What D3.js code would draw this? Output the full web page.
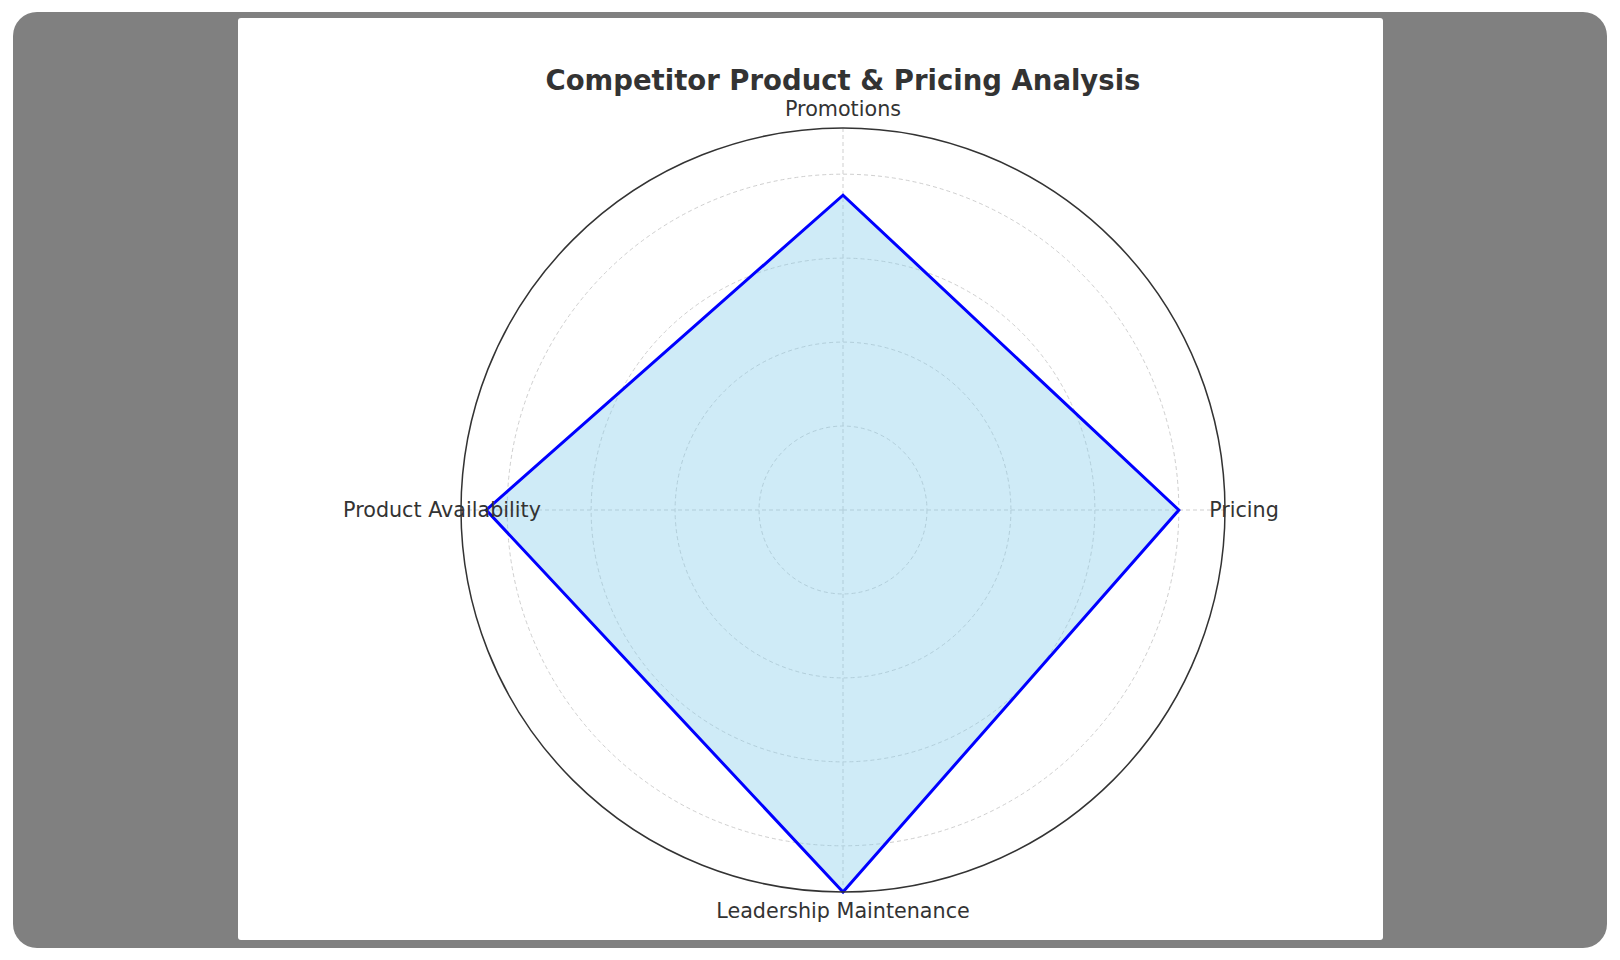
<!DOCTYPE html>
<html>
<head>
<meta charset="utf-8">
<script src="https://cdn.jsdelivr.net/npm/d3@7"></script>
<style>
  body { margin: 0; background: #fff; }
  svg { display: block; font-family: "DejaVu Sans", sans-serif; }
</style>
</head>
<body>
<div id="chart"></div>
<script>
// data
var categories = ['Pricing', 'Promotions', 'Product Availability', 'Leadership Maintenance'];
var scores = [8, 7.5, 8.5, 9.1];
var ringTicks = [2, 4, 6, 8];
var title = 'Competitor Product & Pricing Analysis';

var width = 1620, height = 960;
var cx = 843, cy = 510, radius = 382;
var maxScore = d3.max(scores);

var svg = d3.select('#chart').append('svg')
    .attr('width', width)
    .attr('height', height);

// grey frame + white card
svg.append('rect')
    .attr('x', 13).attr('y', 12)
    .attr('width', 1594).attr('height', 936)
    .attr('rx', 24).attr('ry', 24)
    .style('fill', '#808080');

svg.append('rect')
    .attr('x', 238).attr('y', 18)
    .attr('width', 1145).attr('height', 922)
    .attr('rx', 3).attr('ry', 3)
    .style('fill', '#fff');

var r = d3.scaleLinear()
    .domain([0, maxScore])
    .range([0, radius]);

// matplotlib-style angles: 0 at east, counter-clockwise
var theta = d3.scaleLinear()
    .domain([0, categories.length])
    .range([0, 2 * Math.PI]);

// d3 radial angle is clockwise from 12 o'clock
function d3Angle(i) { return Math.PI / 2 - theta(i); }

var g = svg.append('g')
    .attr('transform', 'translate(' + cx + ',' + cy + ')');

// grid rings
g.selectAll('.ring')
    .data(ringTicks)
    .enter()
    .append('circle')
    .attr('class', 'ring')
    .attr('r', function(d) { return r(d); })
    .style('fill', 'none')
    .style('stroke', '#cfcfcf')
    .style('stroke-width', 1)
    .style('stroke-dasharray', '4,3');

// spokes
g.selectAll('.spoke')
    .data(categories)
    .enter()
    .append('line')
    .attr('class', 'spoke')
    .attr('x1', 0).attr('y1', 0)
    .attr('x2', function(d, i) { return r(maxScore) * Math.cos(theta(i)); })
    .attr('y2', function(d, i) { return -r(maxScore) * Math.sin(theta(i)); })
    .style('stroke', '#cfcfcf')
    .style('stroke-width', 1)
    .style('stroke-dasharray', '4,3');

// data polygon
var radar = d3.lineRadial()
    .angle(function(d, i) { return d3Angle(i); })
    .radius(function(d) { return r(d); })
    .curve(d3.curveLinearClosed);

g.append('path')
    .datum(scores)
    .attr('d', radar)
    .style('fill', '#87ceeb')
    .style('fill-opacity', 0.4)
    .style('stroke', 'none');

g.append('path')
    .datum(scores)
    .attr('d', radar)
    .style('fill', 'none')
    .style('stroke', '#0000ff')
    .style('stroke-width', 3)
    .style('stroke-linejoin', 'miter');

// outer frame circle
g.append('circle')
    .attr('r', r(maxScore))
    .style('fill', 'none')
    .style('stroke', '#333')
    .style('stroke-width', 1.5);

// category labels
g.selectAll('.cat')
    .data(categories)
    .enter()
    .append('text')
    .attr('class', 'cat')
    .attr('x', function(d, i) { return 401 * Math.cos(theta(i)); })
    .attr('y', function(d, i) { return -401 * Math.sin(theta(i)); })
    .attr('dy', '0.35em')
    .style('text-anchor', 'middle')
    .style('font-size', '20.7px')
    .style('fill', '#333')
    .text(function(d) { return d; });

// title
svg.append('text')
    .attr('x', cx)
    .attr('y', 80)
    .attr('dy', '0.35em')
    .style('text-anchor', 'middle')
    .style('font-size', '27.5px')
    .style('font-weight', 'bold')
    .style('fill', '#333')
    .text(title);
</script>
</body>
</html>
